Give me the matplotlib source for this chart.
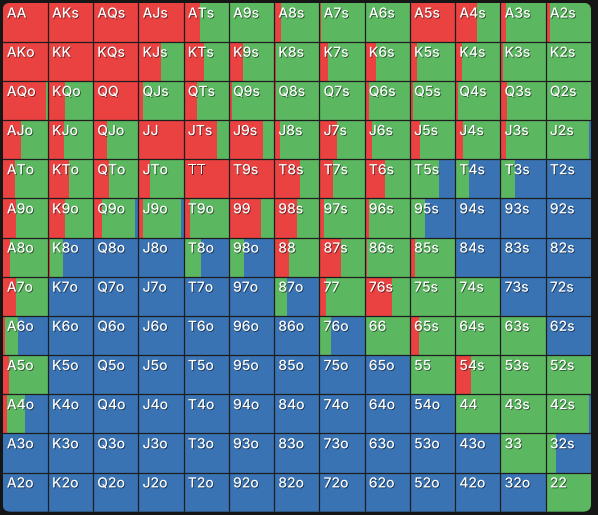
"""Preflop range grid: raise / call / fold frequency per starting hand."""
import matplotlib
matplotlib.use("Agg")
import matplotlib.pyplot as plt
import matplotlib.patheffects as pe
from matplotlib.patches import FancyBboxPatch
import numpy as np

RANKS = "AKQJT98765432"

# raise frequency, row = first rank, col = second rank (upper = suited, lower = offsuit)
raise_freq = [
    [1.00, 1.00, 1.00, 1.00, 0.36, 0.00, 0.16, 0.03, 0.00, 1.00, 0.48, 0.12, 0.10],
    [1.00, 1.00, 1.00, 0.50, 0.45, 0.30, 0.05, 0.18, 0.26, 0.15, 0.14, 0.06, 0.00],
    [0.95, 0.37, 1.00, 0.10, 0.29, 0.07, 0.03, 0.02, 0.10, 0.07, 0.05, 0.15, 0.00],
    [0.40, 0.35, 0.30, 1.00, 0.74, 0.76, 0.12, 0.39, 0.16, 0.23, 0.18, 0.12, 0.00],
    [0.27, 0.46, 0.35, 0.26, 1.00, 1.00, 0.56, 0.30, 0.44, 0.00, 0.00, 0.00, 0.00],
    [0.29, 0.37, 0.20, 0.10, 0.14, 0.71, 0.51, 0.11, 0.10, 0.00, 0.00, 0.00, 0.00],
    [0.16, 0.04, 0.00, 0.00, 0.00, 0.00, 0.32, 0.48, 0.05, 0.12, 0.00, 0.00, 0.00],
    [0.30, 0.00, 0.00, 0.00, 0.00, 0.00, 0.00, 0.15, 0.60, 0.00, 0.00, 0.00, 0.00],
    [0.05, 0.00, 0.00, 0.00, 0.00, 0.00, 0.00, 0.00, 0.00, 0.20, 0.00, 0.00, 0.00],
    [0.13, 0.00, 0.00, 0.00, 0.00, 0.00, 0.00, 0.00, 0.00, 0.00, 0.35, 0.00, 0.00],
    [0.10, 0.00, 0.00, 0.00, 0.00, 0.00, 0.00, 0.00, 0.00, 0.00, 0.00, 0.00, 0.00],
    [0.00, 0.00, 0.00, 0.00, 0.00, 0.00, 0.00, 0.00, 0.00, 0.00, 0.00, 0.00, 0.00],
    [0.00, 0.00, 0.00, 0.00, 0.00, 0.00, 0.00, 0.00, 0.00, 0.00, 0.00, 0.00, 0.00],
]

# call frequency
call_freq = [
    [0.00, 0.00, 0.00, 0.00, 0.64, 1.00, 0.84, 0.97, 1.00, 0.00, 0.52, 0.88, 0.90],
    [0.00, 0.00, 0.00, 0.50, 0.55, 0.70, 0.95, 0.82, 0.74, 0.85, 0.86, 0.94, 1.00],
    [0.05, 0.63, 0.00, 0.90, 0.71, 0.93, 0.97, 0.98, 0.90, 0.93, 0.95, 0.85, 1.00],
    [0.60, 0.65, 0.70, 0.00, 0.26, 0.24, 0.88, 0.61, 0.84, 0.77, 0.82, 0.88, 0.96],
    [0.73, 0.54, 0.65, 0.74, 0.00, 0.00, 0.44, 0.70, 0.56, 0.65, 0.31, 0.32, 0.00],
    [0.71, 0.63, 0.73, 0.83, 0.86, 0.29, 0.49, 0.89, 0.90, 0.34, 0.00, 0.00, 0.00],
    [0.84, 0.30, 0.00, 0.00, 0.38, 0.33, 0.68, 0.52, 0.95, 0.88, 0.00, 0.00, 0.00],
    [0.70, 0.00, 0.00, 0.00, 0.00, 0.00, 0.28, 0.85, 0.40, 1.00, 1.00, 0.00, 0.00],
    [0.28, 0.00, 0.00, 0.00, 0.00, 0.00, 0.00, 0.25, 1.00, 0.80, 1.00, 1.00, 0.00],
    [0.87, 0.00, 0.00, 0.00, 0.00, 0.00, 0.00, 0.00, 0.00, 1.00, 0.65, 1.00, 1.00],
    [0.40, 0.00, 0.00, 0.00, 0.00, 0.00, 0.00, 0.00, 0.00, 0.00, 1.00, 1.00, 0.96],
    [0.00, 0.00, 0.00, 0.00, 0.00, 0.00, 0.00, 0.00, 0.00, 0.00, 0.00, 1.00, 0.22],
    [0.00, 0.00, 0.00, 0.00, 0.00, 0.00, 0.00, 0.00, 0.00, 0.00, 0.00, 0.00, 1.00],
]

RED, GREEN, BLUE = "#EA4141", "#5CB761", "#3A73B4"
BG = "#161616"
LINE = "#1d1d1d"


def hand_label(i, j):
    if i == j:
        return RANKS[i] * 2
    if j > i:
        return RANKS[i] + RANKS[j] + "s"
    return RANKS[j] + RANKS[i] + "o"


def main():
    r = np.array(raise_freq)
    c = np.array(call_freq)
    f = np.clip(1 - r - c, 0, 1)   # fold = whatever is left

    fig = plt.figure(figsize=(5.98, 5.15), dpi=100, facecolor=BG)
    ax = fig.add_axes([2.7 / 598, 3.3 / 515, 588.3 / 598, 509 / 515])
    ax.set_facecolor(BG)
    n = len(RANKS)

    # rounded outer frame, used to clip the cells
    frame = FancyBboxPatch((0, 0), n, n, boxstyle="round,pad=0,rounding_size=0.18",
                           transform=ax.transData, facecolor="none", edgecolor="none")
    ax.add_patch(frame)

    artists = []
    for i in range(n):
        for j in range(n):
            artists += ax.barh(i + 0.5, r[i, j], left=j, height=1, color=RED, linewidth=0)
            artists += ax.barh(i + 0.5, c[i, j], left=j + r[i, j], height=1, color=GREEN, linewidth=0)
            artists += ax.barh(i + 0.5, f[i, j], left=j + r[i, j] + c[i, j], height=1,
                               color=BLUE, linewidth=0)

    # cell borders
    for k in range(1, n):
        artists.append(ax.axhline(k, color=LINE, lw=0.9))
        artists.append(ax.axvline(k, color=LINE, lw=0.9))
    for a in artists:
        a.set_clip_path(frame)

    shadow = [pe.SimplePatchShadow(offset=(0.6, -0.6), shadow_rgbFace="black", alpha=0.55), pe.Normal()]
    for i in range(n):
        for j in range(n):
            ax.text(j + 0.09, i + 0.1, hand_label(i, j), color="white", fontsize=10,
                    family="Inter", fontweight="medium", ha="left", va="top", path_effects=shadow)

    ax.set_xlim(0, n)
    ax.set_ylim(n, 0)
    ax.axis("off")
    fig.savefig("out.png", dpi=100, facecolor=BG)


if __name__ == "__main__":
    main()
